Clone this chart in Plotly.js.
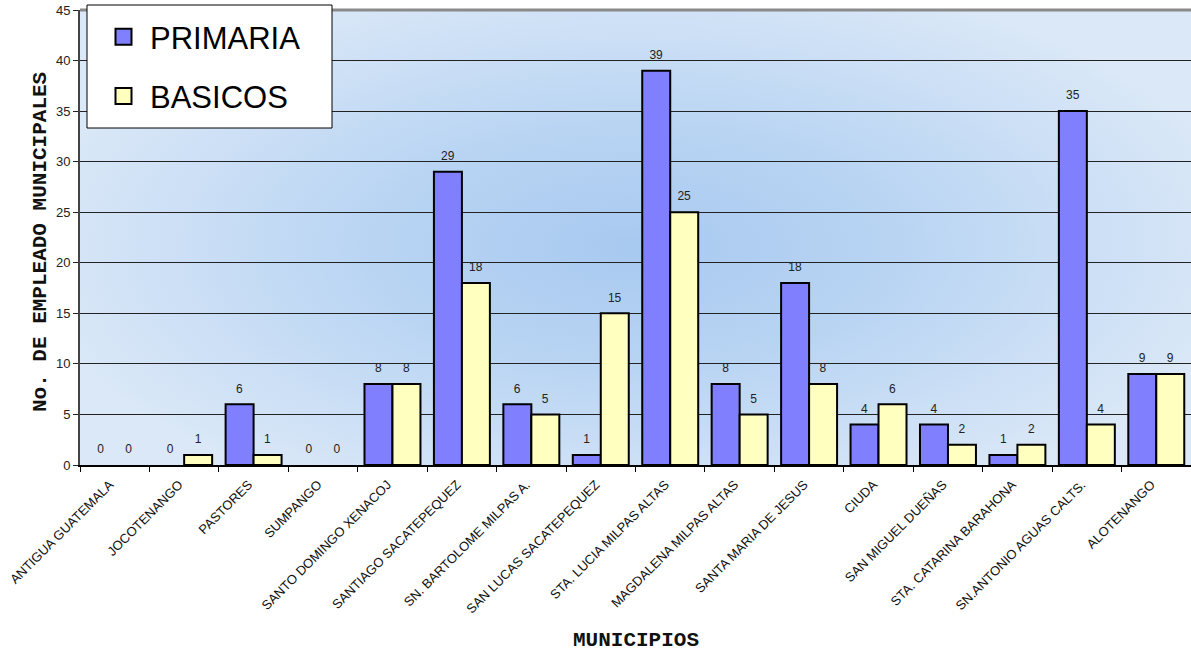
<!DOCTYPE html>
<html>
<head>
<meta charset="utf-8">
<script src="https://cdn.plot.ly/plotly-3.0.1.min.js"></script>
<style>
  html, body { margin: 0; padding: 0; background: #ffffff; }
  #wrap { position: relative; width: 1191px; height: 655px; }
  #bg { position: absolute; left: 80px; top: 10px; width: 1111px; height: 455px;
        background: radial-gradient(ellipse 55% 62% at 50% 52%, #a8c9f0 0%, #bad5f3 45%, #cfe1f6 80%, #dae8f7 100%); }
  #chart { position: absolute; left: 0; top: 0; width: 1191px; height: 655px; }
</style>
</head>
<body>
<div id="wrap">
  <div id="bg"></div>
  <div id="chart"></div>
</div>
<script>
const municipios = [
  "ANTIGUA GUATEMALA", "JOCOTENANGO", "PASTORES", "SUMPANGO",
  "SANTO DOMINGO XENACOJ", "SANTIAGO SACATEPEQUEZ", "SN. BARTOLOME MILPAS A.",
  "SAN LUCAS SACATEPEQUEZ", "STA. LUCIA MILPAS ALTAS", "MAGDALENA MILPAS ALTAS",
  "SANTA MARIA DE JESUS", "CIUDA", "SAN MIGUEL DUEÑAS", "STA. CATARINA BARAHONA",
  "SN.ANTONIO AGUAS CALTS.", "ALOTENANGO"
];
const primaria = [0, 0, 6, 0, 8, 29, 6, 1, 39, 8, 18, 4, 4, 1, 35, 9];
const basicos  = [0, 1, 1, 0, 8, 18, 5, 15, 25, 5, 8, 6, 2, 2, 4, 9];
const seriesNames = ["PRIMARIA", "BASICOS"];
const seriesColors = ["#8080ff", "#ffffc0"];
const yTicks = [0, 5, 10, 15, 20, 25, 30, 35, 40, 45];

const FONT = 'Arial, Liberation Sans, sans-serif';
const MONO = 'Liberation Mono, Courier New, monospace';

function barTrace(name, values, color) {
  return {
    type: 'bar', name: name, x: municipios, y: values,
    showlegend: false,
    texttemplate: '<span style="font-size:12px">%{y}</span><br> ',
    textposition: 'outside',
    constraintext: 'none',
    textfont: { family: FONT, size: 6, color: '#222' },
    cliponaxis: false,
    marker: { color: color, line: { color: '#000', width: values.map(v => v === 0 ? 0 : 2) } }
  };
}
function legendTrace(name, color) {
  return {
    type: 'scatter', mode: 'markers', name: name, x: [null], y: [null],
    legendgroup: name,
    marker: { symbol: 'square', size: 16, color: color, line: { color: '#000', width: 2 } }
  };
}

const data = [
  barTrace(seriesNames[0], primaria, seriesColors[0]),
  barTrace(seriesNames[1], basicos, seriesColors[1]),
  legendTrace(seriesNames[0], seriesColors[0]),
  legendTrace(seriesNames[1], seriesColors[1])
];

const layout = {
  width: 1191, height: 655,
  margin: { l: 80, r: 0, t: 10, b: 190, pad: 0 },
  paper_bgcolor: 'rgba(0,0,0,0)',
  plot_bgcolor: 'rgba(0,0,0,0)',
  barmode: 'group',
  bargap: 0.194,
  bargroupgap: 0,
  showlegend: true,
  legend: {
    x: 0.0153, y: 1.0, xanchor: 'left', yanchor: 'top',
    bgcolor: 'rgba(0,0,0,0)', borderwidth: 0,
    font: { family: FONT, size: 31, color: '#000' },
    traceorder: 'grouped', tracegroupgap: 16, itemwidth: 43, itemsizing: 'trace'
  },
  xaxis: {
    type: 'category', automargin: false,
    tickangle: -45,
    ticklabelstandoff: 5, ticklabelshift: -5,
    tickfont: { family: FONT, size: 13, color: '#111' },
    showline: true, linecolor: '#000', linewidth: 2,
    ticks: 'outside', ticklen: 5, tickcolor: '#000', tickson: 'boundaries',
    showgrid: false, zeroline: false
  },
  yaxis: {
    range: [0, 45], automargin: false,
    tickvals: yTicks, ticktext: yTicks.map(String),
    tickfont: { family: FONT, size: 13, color: '#222' },
    showline: true, linecolor: '#444', linewidth: 2,
    ticks: 'outside', ticklen: 5, tickcolor: '#222',
    showgrid: true, gridcolor: '#222', gridwidth: 1, zeroline: false
  },
  shapes: [
    { type: 'line', xref: 'paper', yref: 'paper', x0: 0, x1: 1, y0: 1, y1: 1,
      line: { color: '#8a8a8a', width: 3 } },
    { type: 'rect', xref: 'paper', yref: 'paper', layer: 'above',
      x0: (87 - 80) / 1111, x1: (332 - 80) / 1111,
      y0: (465 - 128) / 455, y1: (465 - 5) / 455,
      fillcolor: '#ffffff', line: { color: '#000', width: 1 } }
  ],
  annotations: [
    { text: '<b>MUNICIPIOS</b>', xref: 'paper', yref: 'paper', x: 0.5, y: -0.385,
      xanchor: 'center', yanchor: 'middle', showarrow: false,
      font: { family: MONO, size: 21, color: '#111' } },
    { text: '<b>No. DE EMPLEADO MUNICIPALES</b>', xref: 'paper', yref: 'paper',
      x: -0.036, y: 0.49, xanchor: 'center', yanchor: 'middle', textangle: -90,
      showarrow: false,
      font: { family: MONO, size: 21, color: '#111' } }
  ]
};

Plotly.newPlot('chart', data, layout, { displayModeBar: false, staticPlot: true });
</script>
</body>
</html>
